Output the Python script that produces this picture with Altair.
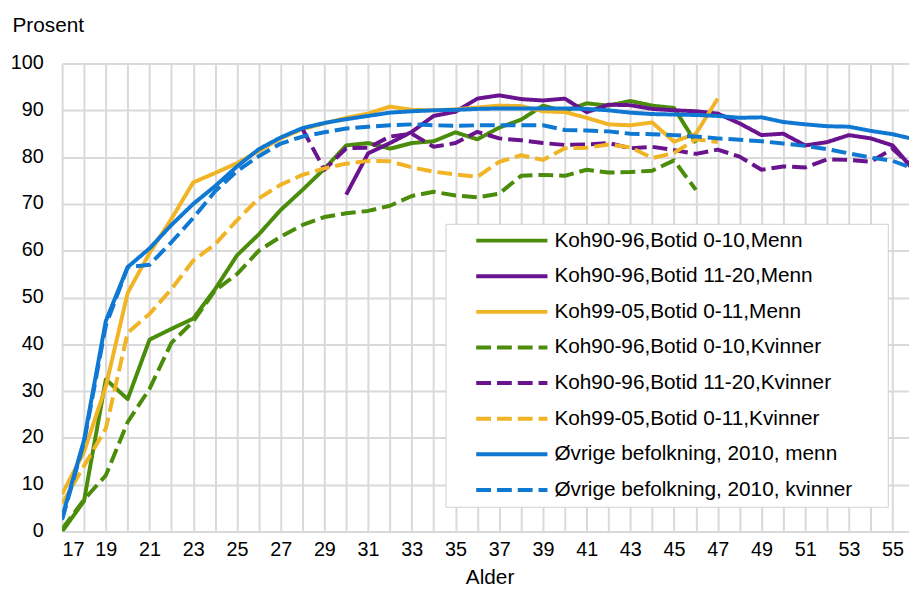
import altair as alt
import pandas as pd

ages = list(range(17, 57))

series_names = [
    "Koh90-96,Botid 0-10,Menn",
    "Koh90-96,Botid 11-20,Menn",
    "Koh99-05,Botid 0-11,Menn",
    "Koh90-96,Botid 0-10,Kvinner",
    "Koh90-96,Botid 11-20,Kvinner",
    "Koh99-05,Botid 0-11,Kvinner",
    "Øvrige befolkning, 2010, menn",
    "Øvrige befolkning, 2010, kvinner",
]

# values by age 17..56 (None = no data)
green_menn = [0, 6.5, 32.5, 28.3, 41, 43.3, 45.5, 51.8, 59, 63.5, 68.7, 73, 77.5, 82.5, 83,
              81.8, 83, 83.4, 85.3, 83.8, 86.3, 88, 91, 89.8, 91.5, 91, 92, 91, 90.5, 83]
purple_menn = [None] * 13 + [72, 80.8, 83, 85.4, 88.8, 89.7, 92.5, 93.2, 92.4, 92.1, 92.5,
                             89.6, 91.2, 91.1, 90.3, 90, 89.8, 89.3, 87.2, 84.7, 85, 82.5,
                             83.2, 84.7, 84, 82.5, 77]
yellow_menn = [8, 17, 31, 51, 59.5, 66.8, 74.6, 76.6, 78.7, 81.3, 84, 86, 87.2, 88.4, 89.3,
               90.8, 90.1, 90, 90.2, 90.6, 91, 90.9, 89.8, 89.6, 88.4, 87, 86.8, 87.4, 83.3,
               85, 92.5]
green_kvinner = [0.5, 6.8, 12, 23.4, 30.5, 40.3, 44.9, 51.5, 55, 60, 63, 65.5, 67.2, 68, 68.5,
                 69.6, 71.7, 72.6, 71.8, 71.4, 72.2, 76, 76.2, 76, 77.3, 76.7, 76.8, 77.1,
                 79.3, 73]
purple_kvinner = [None] * 11 + [86, 77.3, 81.9, 82, 84.4, 85, 82.2, 83, 85.4, 84, 83.6, 83,
                                82.6, 82.7, 83, 81.9, 82.2, 81.5, 80.7, 81.6, 80.1, 77.3, 78,
                                77.8, 79.5, 79.4, 79, 81.8, 77.5]
yellow_kvinner = [6, 14, 22, 42.5, 46.5, 51.8, 57.9, 61.4, 66.5, 71.2, 74.1, 76.2, 77.6, 78.6,
                  79.2, 79.1, 77.8, 76.9, 76.3, 75.8, 79, 80.4, 79.4, 81.9, 82, 82.7, 82.1,
                  79.8, 80.9, 83.8, 83.2]
blue_menn = [3, 19.5, 45, 56.5, 60.5, 65.5, 70, 73.8, 78, 81.7, 84.2, 86.2, 87.3, 88.1, 88.8,
             89.5, 89.8, 90, 90.1, 90.3, 90.4, 90.4, 90.4, 90.4, 90.3, 90, 89.5, 89.2, 89.1,
             89, 88.8, 88.4, 88.5, 87.5, 87, 86.6, 86.5, 85.6, 84.9, 83.8]
blue_kvinner = [2.5, 19, 44, 56.5, 57, 61.8, 67, 72.7, 77, 80.2, 82.9, 84.4, 85.3, 86.1, 86.5,
                86.8, 87, 86.8, 86.7, 86.8, 86.8, 86.8, 86.8, 85.8, 85.7, 85.5, 85, 84.9,
                84.7, 84.4, 84, 83.7, 83.4, 82.9, 82.4, 81.7, 80.8, 79.9, 79.2, 77.5]

all_values = [green_menn, purple_menn, yellow_menn, green_kvinner,
              purple_kvinner, yellow_kvinner, blue_menn, blue_kvinner]

line_colors = ["#4B8C0B", "#6A138F", "#F0B425", "#4B8C0B",
               "#6A138F", "#F0B425", "#0E78D2", "#0E78D2"]
dashes = [[1, 0], [1, 0], [1, 0], [15, 6], [15, 6], [15, 6], [1, 0], [15, 6]]

rows = []
for name, vals in zip(series_names, all_values):
    for a, v in zip(ages, vals):
        if v is not None:
            rows.append({"Alder": a, "Prosent": v, "Serie": name})
df = pd.DataFrame(rows)

legend = alt.Legend(
    title="\u00a0", titleOrient="right", titlePadding=29, titleFontSize=21,
    orient="none", legendX=387.5, legendY=162,
    symbolType="stroke", symbolSize=5184, symbolStrokeWidth=4,
    clipHeight=20, rowPadding=15.0, padding=7, symbolOffset=22, labelOffset=5,
    labelFontSize=21, labelColor="black", labelLimit=600,
    fillColor="white", strokeColor="#d0d0d0",
)

x_ticks = list(range(17, 56))
y_ticks = list(range(0, 101, 10))

chart = alt.Chart(df).mark_line(strokeWidth=4, strokeJoin="round", strokeCap="butt", clip=True).encode(
    x=alt.X("Alder:Q",
            scale=alt.Scale(domain=[17, 55.75], nice=False, zero=False),
            axis=alt.Axis(values=x_ticks,
                          labelExpr="datum.value % 2 == 1 ? datum.label : ''",
                          title="Alder", titleX=432, titleY=53, titleAlign="center",
                          titleBaseline="alphabetic",
                          labelBaseline="alphabetic", labelPadding=24.5)),
    y=alt.Y("Prosent:Q",
            scale=alt.Scale(domain=[0, 100], nice=False),
            axis=alt.Axis(values=y_ticks, title="Prosent", titleAngle=0,
                          titleX=-50.7, titleY=-32.5, titleAlign="left",
                          titleBaseline="alphabetic", labelPadding=19,
                          labelBaseline="alphabetic", labelOffset=5)),
    color=alt.Color("Serie:N", scale=alt.Scale(domain=series_names, range=line_colors),
                    legend=legend),
    strokeDash=alt.StrokeDash("Serie:N", scale=alt.Scale(domain=series_names, range=dashes),
                              legend=legend),
).properties(
    width=855.9, height=473,
    autosize=alt.AutoSizeParams(type="none"),
    padding={"left": 54.7, "top": 53, "right": 0, "bottom": 56},
).configure(
    font="Liberation Sans",
).configure_view(
    stroke=None,
).configure_axis(
    grid=True, gridColor="#D9D9D9", gridWidth=2, domain=False, ticks=False,
    labelFontSize=20, labelColor="black", titleFontSize=21, titleColor="black",
    titleFontWeight="normal", labelFont="Liberation Sans", titleFont="Liberation Sans",
)

chart.save("out.html", embed_options={"renderer": "svg", "actions": False})
